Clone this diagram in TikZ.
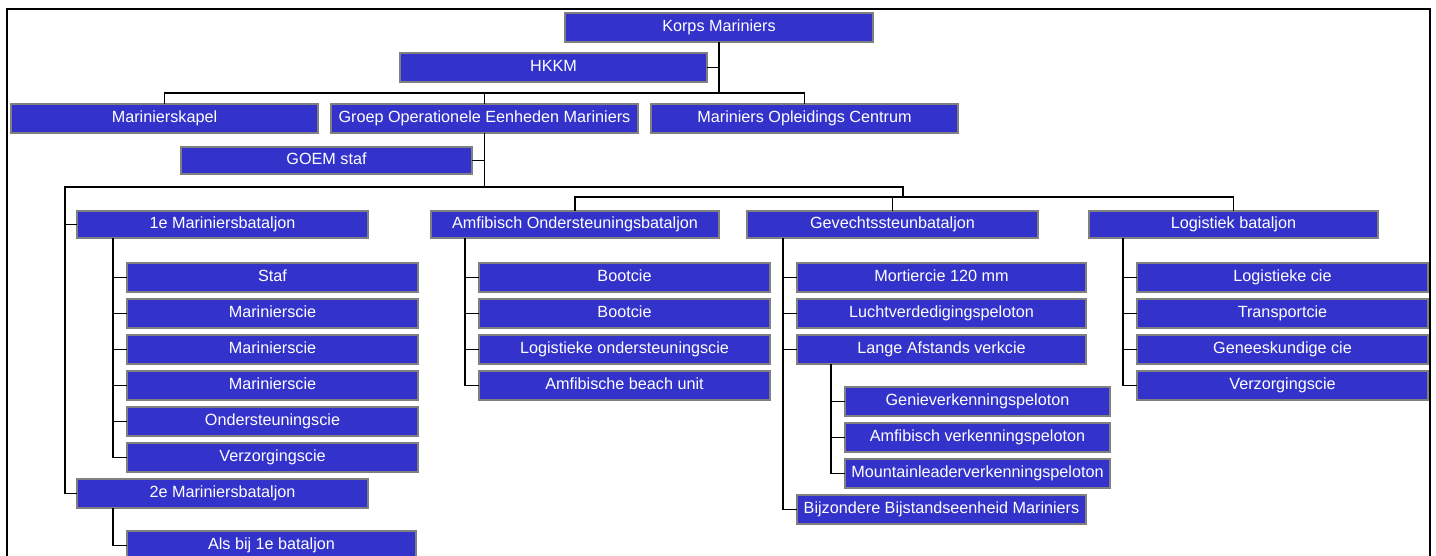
\documentclass[tikz,border=0pt]{standalone}
\usepackage{fontspec}
\setmainfont{Liberation Sans}
\definecolor{boxblue}{RGB}{51,51,204}
\definecolor{boxedge}{RGB}{128,128,128}
\begin{document}
\begin{tikzpicture}[x=1pt,y=-1pt,
  unit/.style={draw=boxedge,line width=1.8pt,fill=boxblue,text=white,inner sep=0pt,outer sep=0pt,
    minimum height=29pt,text height=11.5pt,text depth=3.5pt,
    font=\fontsize{16.2}{19}\selectfont},
  wA/.style={unit,minimum width=307pt},
  wB/.style={unit,minimum width=291pt},
  wC/.style={unit,minimum width=265pt},
  link/.style={draw=black,line width=1.8pt},
  frameline/.style={draw=black,line width=1.8pt}]
\clip (0,0) rectangle (1436,556);
\fill[white] (0,0) rectangle (1436,556);
\draw[frameline] (7,600) -- (7,9) -- (1430,9) -- (1430,600);

% top level
\node[wA,minimum width=308pt] (korps) at (719,27.5) {Korps Mariniers};
\node[wA] (hkkm) at (553.5,67.5) {HKKM};
\node[wA] (kapel) at (164.5,118.5) {Marinierskapel};
\node[wA] (goem) at (484.5,118.5) {Groep Operationele Eenheden Mariniers};
\node[wA] (moc) at (804.5,118.5) {Mariniers Opleidings Centrum};
\node[wB,minimum height=27pt] (staf) at (326.5,160.5) {GOEM staf};

% battalions
\node[wB,minimum height=27pt] (bat1) at (222.5,224.5) {1e Mariniersbataljon};
\node[wB,minimum width=288pt,minimum height=27pt] (amf) at (575,224.5) {Amfibisch Ondersteuningsbataljon};
\node[wB,minimum height=27pt] (gev) at (892.5,224.5) {Gevechtssteunbataljon};
\node[wB,minimum width=289pt,minimum height=27pt] (log) at (1233.5,224.5) {Logistiek bataljon};
\node[wB] (bat2) at (222.5,493.5) {2e Mariniersbataljon};
\node[wB,minimum width=289pt] (als) at (271.5,545.5) {Als bij 1e bataljon};

% 1e bataljon children
\node[wB] (m1) at (272.5,277.5) {Staf};
\node[wB] (m2) at (272.5,313.5) {Marinierscie};
\node[wB] (m3) at (272.5,349.5) {Marinierscie};
\node[wB] (m4) at (272.5,385.5) {Marinierscie};
\node[wB] (m5) at (272.5,421.5) {Ondersteuningscie};
\node[wB] (m6) at (272.5,457.5) {Verzorgingscie};

% amfibisch children
\node[wB] (a1) at (624.5,277.5) {Bootcie};
\node[wB] (a2) at (624.5,313.5) {Bootcie};
\node[wB] (a3) at (624.5,349.5) {Logistieke ondersteuningscie};
\node[wB] (a4) at (624.5,385.5) {Amfibische beach unit};

% gevechtssteun children
\node[wB,minimum width=289pt] (g1) at (941.5,277.5) {Mortiercie 120 mm};
\node[wB,minimum width=289pt] (g2) at (941.5,313.5) {Luchtverdedigingspeloton};
\node[wB,minimum width=289pt] (g3) at (941.5,349.5) {Lange Afstands verkcie};
\node[wC] (s1) at (977.5,401.5) {Genieverkenningspeloton};
\node[wC] (s2) at (977.5,437.5) {Amfibisch verkenningspeloton};
\node[wC] (s3) at (977.5,473.5) {Mountainleaderverkenningspeloton};
\node[wB,minimum width=289pt] (g4) at (941.5,509.5) {Bijzondere Bijstandseenheid Mariniers};

% logistiek children
\node[wB] (l1) at (1282.5,277.5) {Logistieke cie};
\node[wB] (l2) at (1282.5,313.5) {Transportcie};
\node[wB] (l3) at (1282.5,349.5) {Geneeskundige cie};
\node[wB] (l4) at (1282.5,385.5) {Verzorgingscie};

% bus coordinates
\coordinate (b0) at (0,93);
\coordinate (b1) at (65,187);
\coordinate (j1) at (903,187);
\coordinate (j2) at (903,197);
\coordinate (v1) at (113,0);
\coordinate (va) at (465,0);
\coordinate (vg) at (783,0);
\coordinate (vs) at (831,0);
\coordinate (vl) at (1123,0);

% top connectors
\draw[link] (hkkm.east) -- (hkkm.east -| korps.south);
\draw[link] (korps.south) -- (korps.south |- b0);
\draw[link] (kapel.north) -- (kapel.north |- b0) -- (moc.north |- b0) -- (moc.north);
\draw[link] (goem.north) -- (goem.north |- b0);
\draw[link] (goem.south) -- (goem.south |- b1);
\draw[link] (staf.east) -- (staf.east -| goem.south);

% battalion buses
\draw[link] (bat2.west) -| (b1) -- (j1) -- (j2);
\draw[link] (bat1.west) -- (bat1.west -| b1);
\draw[link] (amf.north) |- (j2) -- (log.north |- j2) -- (log.north);
\draw[link] (gev.north) -- (gev.north |- j2);

% 1e bataljon
\draw[link] (bat1.south -| v1) |- (m6.west);
\foreach \n in {m1,m2,m3,m4,m5} \draw[link] (\n.west) -- (\n.west -| v1);
\draw[link] (bat2.south -| v1) |- (als.west);

% amfibisch
\draw[link] (amf.south -| va) |- (a4.west);
\foreach \n in {a1,a2,a3} \draw[link] (\n.west) -- (\n.west -| va);

% gevechtssteun
\draw[link] (gev.south -| vg) |- (g4.west);
\foreach \n in {g1,g2,g3} \draw[link] (\n.west) -- (\n.west -| vg);
\draw[link] (g3.south -| vs) |- (s3.west);
\foreach \n in {s1,s2} \draw[link] (\n.west) -- (\n.west -| vs);

% logistiek
\draw[link] (log.south -| vl) |- (l4.west);
\foreach \n in {l1,l2,l3} \draw[link] (\n.west) -- (\n.west -| vl);
\end{tikzpicture}
\end{document}
